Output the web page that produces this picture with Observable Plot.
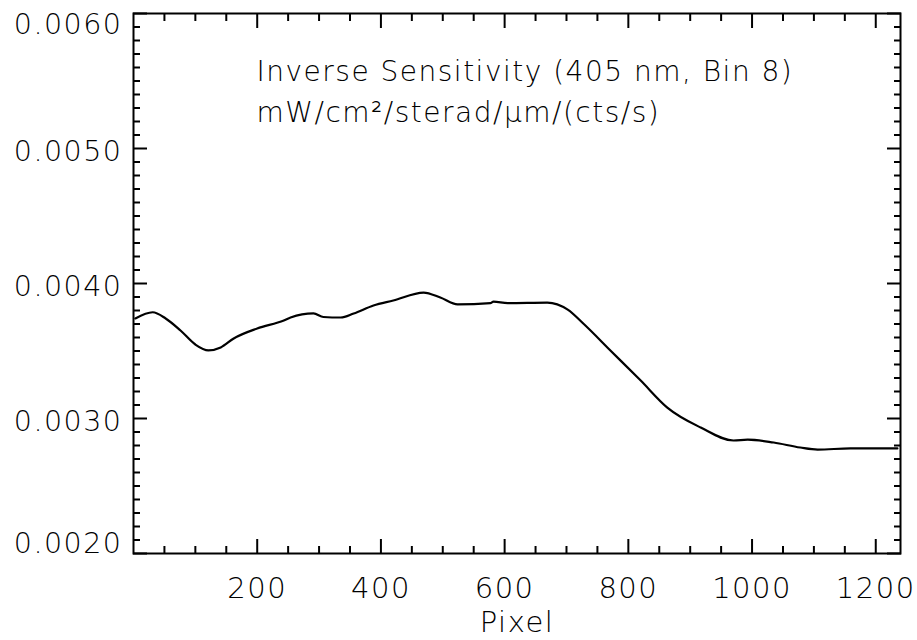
<!DOCTYPE html>
<html>
<head>
<meta charset="utf-8">
<script src="https://cdn.jsdelivr.net/npm/d3@7"></script>
<script src="https://cdn.jsdelivr.net/npm/@observablehq/plot@0.6"></script>
<style>
  html, body { margin: 0; padding: 0; background: #fff; }
  #chart svg { display: block; }
</style>
</head>
<body>
<div id="chart"></div>
<script>
// Data
const pixel = [3, 31, 52, 76, 100, 121, 141, 162, 200, 243, 254, 291, 307, 335, 356, 388, 420, 469, 496, 524, 577, 582, 605, 669, 702, 728, 771, 820, 863, 917, 970, 993, 1035, 1078, 1106, 1159, 1235];
const invSens = [0.003741, 0.003787, 0.003741, 0.003652, 0.003548, 0.003504, 0.003526, 0.003593, 0.003667, 0.003726, 0.003748, 0.003778, 0.003752, 0.003748, 0.003778, 0.003837, 0.003874, 0.003933, 0.003896, 0.003845, 0.003855, 0.003866, 0.003855, 0.003859, 0.003807, 0.0037, 0.003504, 0.003281, 0.003081, 0.002933, 0.002837, 0.002844, 0.002822, 0.002785, 0.00277, 0.002778, 0.002778];
const xMajor = [200, 400, 600, 800, 1000, 1200];
const xMinor = [50, 100, 150, 250, 300, 350, 450, 500, 550, 650, 700, 750, 850, 900, 950, 1050, 1100, 1150];
const yMajor = [0.002, 0.003, 0.004, 0.005, 0.006];
const yMinor = d3.range(21, 60).filter(d => d % 10 !== 0).map(d => d / 10000);
const titleLines = ["Inverse Sensitivity (405 nm, Bin 8)", "mW/cm²/sterad/μm/(cts/s)"];
const xLabel = "Pixel";

const data = pixel.map((p, i) => ({p, v: invSens[i]}));
const font = "DejaVu Sans, sans-serif";
const fmt = d3.format(".4f");
const none = () => "";

const plot = Plot.plot({
  width: 917,
  height: 640,
  marginLeft: 133,
  marginRight: 17,
  marginTop: 13,
  marginBottom: 87,
  style: {fontFamily: font, fontSize: "29px", fontWeight: 200, letterSpacing: "1.5px", color: "#000", background: "#fff"},
  x: {domain: [0, 1240]},
  y: {domain: [0.002, 0.006]},
  marks: [
    Plot.frame({stroke: "#000", strokeWidth: 2}),
    // inward ticks, bottom & top
    Plot.axisX(xMajor, {anchor: "bottom", tickSize: -14, tickFormat: none, strokeWidth: 2, label: null}),
    Plot.axisX(xMinor, {anchor: "bottom", tickSize: -7, tickFormat: none, strokeWidth: 2, label: null}),
    Plot.axisX(xMajor, {anchor: "top", tickSize: -14, tickFormat: none, strokeWidth: 2, label: null}),
    Plot.axisX(xMinor, {anchor: "top", tickSize: -7, tickFormat: none, strokeWidth: 2, label: null}),
    // inward ticks, left & right
    Plot.axisY(yMajor, {anchor: "left", tickSize: -14, tickFormat: none, strokeWidth: 2, label: null}),
    Plot.axisY(yMinor, {anchor: "left", tickSize: -7, tickFormat: none, strokeWidth: 2, label: null}),
    Plot.axisY(yMajor, {anchor: "right", tickSize: -14, tickFormat: none, strokeWidth: 2, label: null}),
    Plot.axisY(yMinor, {anchor: "right", tickSize: -7, tickFormat: none, strokeWidth: 2, label: null}),
    // tick labels
    Plot.axisX(xMajor, {anchor: "bottom", tickSize: 0, tickPadding: 24, tickFormat: d => String(d), fontSize: 29, label: null}),
    Plot.axisY([0.003, 0.004, 0.005], {anchor: "left", tickSize: 0, tickPadding: 11, tickFormat: fmt, fontSize: 28.5, dy: 3, label: null}),
    Plot.axisY([0.006], {anchor: "left", tickSize: 0, tickPadding: 11, tickFormat: fmt, fontSize: 28.5, dy: 11, label: null}),
    Plot.axisY([0.002], {anchor: "left", tickSize: 0, tickPadding: 11, tickFormat: fmt, fontSize: 28.5, dy: -10, label: null}),
    Plot.text([xLabel], {frameAnchor: "bottom", dy: 78, fontSize: 29, lineAnchor: "bottom"}),
    // data line
    Plot.line(data, {x: "p", y: "v", stroke: "#000", strokeWidth: 2.2, curve: "monotone-x"}),
    // annotation
    Plot.text([titleLines[0]], {frameAnchor: "top-left", dx: 123, dy: 67, fontSize: 28, textAnchor: "start", lineAnchor: "bottom"}),
    Plot.text([titleLines[1]], {frameAnchor: "top-left", dx: 123, dy: 108, fontSize: 28, textAnchor: "start", lineAnchor: "bottom"})
  ]
});
document.getElementById("chart").appendChild(plot);
</script>
</body>
</html>
